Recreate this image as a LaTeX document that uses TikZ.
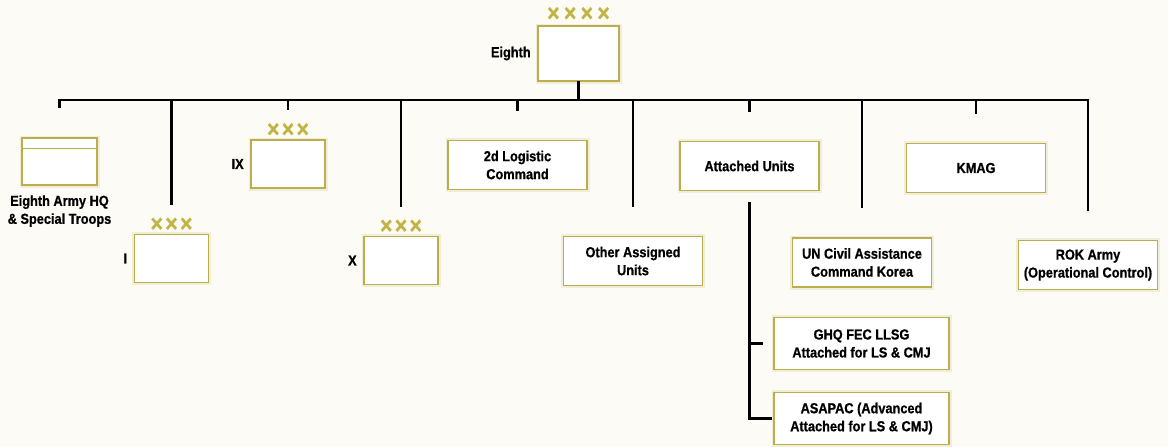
\documentclass[tikz,border=0pt]{standalone}
\usepackage{fontspec}
\setmainfont{Liberation Sans}[FakeStretch=0.88,BoldFeatures={FakeBold=0.8}]
\usetikzlibrary{calc,positioning}
\definecolor{armykhaki}{HTML}{BCAE4C}
\definecolor{armycross}{HTML}{C2B443}
\definecolor{armypaper}{HTML}{FCFBF5}
\tikzset{every node/.style={font=\fontsize{14.5}{18}\selectfont\bfseries},
  unit/.style={draw=armykhaki,fill=white,line width=1.6pt,align=center,
    inner sep=0pt,preaction={draw=armykhaki!22,line width=5pt}},
  corps/.style={unit,minimum width=74pt,minimum height=48pt},
  staff/.style={unit,minimum width=139pt,minimum height=49pt},
  detach/.style={unit,minimum width=175pt,minimum height=52pt},
  xmark/.style={text=armycross,inner sep=0pt,
    font=\fontsize{24}{24}\selectfont\bfseries}}
\newcommand{\xxx}{×\kern2.4pt×\kern2.4pt×}
\newcommand{\xxxx}{×\kern4.4pt×\kern4.4pt×\kern4.4pt×}
\newcommand{\corpsbox}[4]{%
  \node[corps] (#1) at (#2,#3) {};
  \node[xmark] (#1x) at ([yshift=9pt]#1.north) {\xxx};
  \node[left=3pt of #1] (#1l) {#4};}

\begin{document}
\begin{tikzpicture}[x=1pt,y=-1pt,
    link/.style={draw=black,line width=2.2pt,line cap=rect},
    drop/.style={link,shorten >=30pt},
    unitline/.style={draw=armykhaki,line width=1pt}]
  \path[use as bounding box,fill=armypaper] (0,0) rectangle (1168,447);

  % Army
  \node[unit,minimum width=81pt,minimum height=55pt] (E8) at (578.5,53.5) {};
  \node[xmark] (E8x) at ([yshift=11pt]E8.north) {\xxxx};
  \node[left=3pt of E8] (E8l) {Eighth};
  \coordinate (bus) at (578.5,100);

  % Headquarters
  \node[unit,minimum width=75pt,minimum height=47pt] (HQ) at (59.5,161.5) {};
  \draw[unitline] ([yshift=-11pt]HQ.north west) -- ([yshift=-11pt]HQ.north east);
  \node[below=6pt of HQ,align=center] (HQl) {Eighth Army HQ\\\& Special Troops};

  % Corps
  \corpsbox{CI}{171.5}{258.5}{I}
  \corpsbox{CIX}{288}{164}{IX}
  \corpsbox{CX}{401}{260.5}{X}

  % Commands and units
  \node[staff] (Log) at (517.5,165) {2d Logistic\\Command};
  \node[staff] (Oth) at (633,261) {Other Assigned\\Units};
  \node[staff] (Att) at (749.5,166) {Attached Units};
  \node[staff] (UN) at (862,262.5) {UN Civil Assistance\\Command Korea};
  \node[staff] (KMAG) at (976,168) {KMAG};
  \node[staff] (ROK) at (1088,265) {ROK Army\\(Operational Control)};
  \node[detach] (GHQ) at (861.5,343.5) {GHQ FEC LLSG\\Attached for LS \& CMJ};
  \node[detach] (ASA) at (861.5,418.5) {ASAPAC (Advanced\\Attached for LS \& CMJ)};

  % Bus and drops
  \draw[link] (E8.south) -- (bus);
  \draw[link] (HQ |- bus) -- (ROK |- bus);
  \draw[drop] (HQ |- bus) -- (HQ.north);
  \draw[drop] (CI |- bus) -- (CI.north);
  \draw[drop] (CIX |- bus) -- (CIX.north);
  \draw[drop] (CX |- bus) -- (CX.north);
  \draw[drop] (Log |- bus) -- (Log.north);
  \draw[drop] (Oth |- bus) -- (Oth.north);
  \draw[drop] (Att |- bus) -- (Att.north);
  \draw[drop] (UN |- bus) -- (UN.north);
  \draw[drop] (KMAG |- bus) -- (KMAG.north);
  \draw[drop] (ROK |- bus) -- (ROK.north);

  % Attached units
  \draw[link,shorten <=12pt,shorten >=2pt] (Att.south) -- (Att |- ASA) -- (ASA.west);
  \draw[link,shorten >=11pt] (Att |- GHQ) -- (GHQ.west);
\end{tikzpicture}
\end{document}
